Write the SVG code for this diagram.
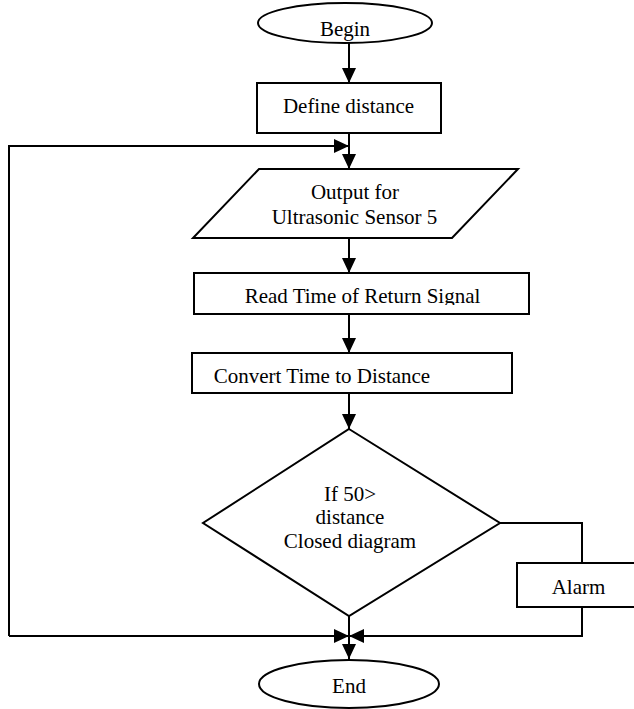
<svg xmlns="http://www.w3.org/2000/svg" width="634" height="709" viewBox="0 0 634 709">
<style>
  .shape { fill: #fff; stroke: #000; stroke-width: 2; }
  .conn { fill: none; stroke: #000; stroke-width: 2; }
  text { font-family: "Liberation Serif", "Times New Roman", serif; font-size: 21px; fill: #000; text-anchor: middle; }
</style>
<defs>
  <marker id="arrow" markerUnits="userSpaceOnUse" markerWidth="15" markerHeight="14" refX="15" refY="7" orient="auto">
    <path d="M0,0 L15,7 L0,14 z" fill="#000"/>
  </marker>
  <clipPath id="clipRead"><rect x="194" y="273" width="335" height="32"/></clipPath>
  <clipPath id="clipConv"><rect x="192" y="353" width="320" height="30"/></clipPath>
</defs>
<rect width="634" height="709" fill="#fff"/>
<g id="connectors">
  <line class="conn" x1="349" y1="43" x2="349" y2="83" marker-end="url(#arrow)"/>
  <line class="conn" x1="349" y1="133" x2="349" y2="169" marker-end="url(#arrow)"/>
  <path class="conn" d="M9,636 V146 H349" marker-end="url(#arrow)"/>
  <path class="conn" d="M9,636 H349" marker-end="url(#arrow)"/>
  <line class="conn" x1="349" y1="238" x2="349" y2="273" marker-end="url(#arrow)"/>
  <line class="conn" x1="349" y1="314" x2="349" y2="353" marker-end="url(#arrow)"/>
  <line class="conn" x1="349" y1="393" x2="349" y2="429" marker-end="url(#arrow)"/>
  <path class="conn" d="M500,523 H582 V563"/>
  <path class="conn" d="M582,607 V636 H349" marker-end="url(#arrow)"/>
  <path class="conn" d="M349,616 V659" marker-end="url(#arrow)"/>
</g>
<g id="begin">
  <ellipse class="shape" cx="345" cy="23" rx="87" ry="20"/>
  <text x="345" y="36">Begin</text>
</g>
<g id="define">
  <rect class="shape" x="257" y="83" width="184" height="50"/>
  <text x="348.5" y="113">Define distance</text>
</g>
<g id="output">
  <polygon class="shape" points="259,169 518,169 452,238 193,238"/>
  <text x="355" y="199">Output for</text>
  <text x="354.5" y="224">Ultrasonic Sensor 5</text>
</g>
<g id="read">
  <rect class="shape" x="194" y="273" width="335" height="41"/>
  <text x="362.5" y="303" clip-path="url(#clipRead)">Read Time of Return Signal</text>
</g>
<g id="convert">
  <rect class="shape" x="192" y="353" width="320" height="40"/>
  <text x="322" y="383" clip-path="url(#clipConv)">Convert Time to Distance</text>
</g>
<g id="decision">
  <polygon class="shape" points="349,429 500,523 349,616 203,523"/>
  <text x="350" y="501">If 50&gt;</text>
  <text x="350" y="524">distance</text>
  <text x="350" y="548">Closed diagram</text>
</g>
<g id="alarm">
  <rect class="shape" x="517" y="563" width="125" height="44"/>
  <text x="578.5" y="594">Alarm</text>
</g>
<g id="end">
  <ellipse class="shape" cx="349" cy="684" rx="90" ry="24"/>
  <text x="349" y="693">End</text>
</g>
</svg>
